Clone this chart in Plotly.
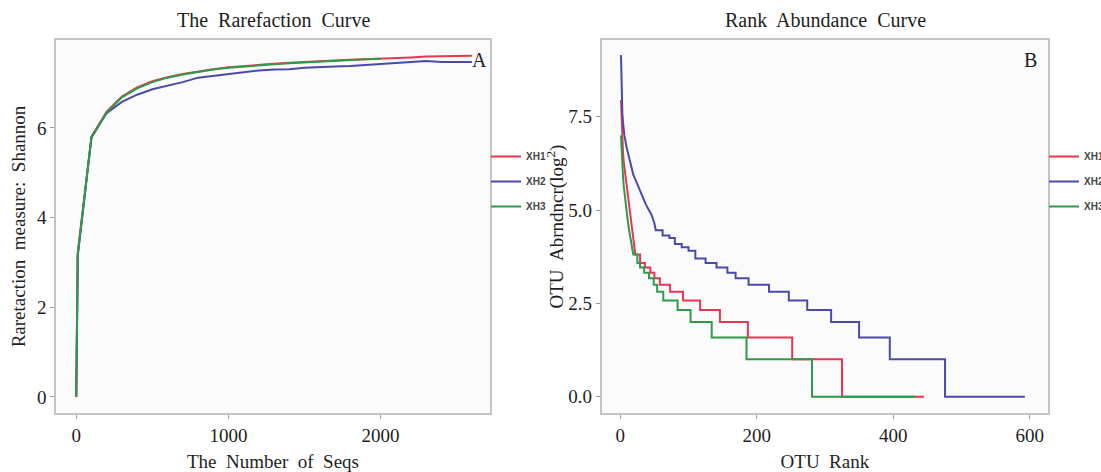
import plotly.graph_objects as go

W, H = 1101, 472

# ---------------- data: rarefaction (Shannon vs number of seqs) ----------------
seqs_a = [0, 10, 100, 200, 300, 400, 500, 600, 700, 800, 900, 1000, 1100, 1200,
          1300, 1400, 1500, 1600, 1700, 1800, 1900, 2000, 2100, 2200, 2300, 2400, 2500, 2600]
shannon_xh1 = [0, 3.2, 5.8, 6.36, 6.7, 6.9, 7.04, 7.13, 7.2, 7.26, 7.31, 7.35, 7.38, 7.41,
               7.43, 7.45, 7.47, 7.49, 7.5, 7.52, 7.53, 7.54, 7.56, 7.57, 7.59, 7.6, 7.61, 7.61]
shannon_xh2 = [0, 3.15, 5.8, 6.33, 6.58, 6.74, 6.86, 6.94, 7.02, 7.12, 7.16, 7.19, 7.24, 7.28,
               7.3, 7.31, 7.34, 7.36, 7.37, 7.38, 7.4, 7.43, 7.45, 7.46, 7.49, 7.47, 7.47, 7.47]
seqs_c = [0, 10, 100, 200, 300, 400, 500, 600, 700, 800, 900, 1000, 1100, 1200,
          1300, 1400, 1500, 1600, 1700, 1800, 1900, 2000]
shannon_xh3 = [0, 3.2, 5.78, 6.34, 6.68, 6.88, 7.02, 7.12, 7.19, 7.25, 7.3, 7.34, 7.37, 7.4,
               7.42, 7.44, 7.46, 7.48, 7.5, 7.51, 7.53, 7.54]

# ---------------- data: rank abundance (log2 abundance vs OTU rank) ----------------
# steep head of each curve (rank, log2 abundance)
head_rank_xh1 = [1, 2, 3, 4, 5, 7, 9, 11, 13, 15, 17, 19]
head_abund_xh1 = [7.95, 7.3, 6.9, 6.55, 6.3, 6.0, 5.75, 5.45, 5.12, 4.78, 4.48, 4.2]
# stepped tail: each level starts at a rank and holds until the next start
step_start_xh1 = [22, 29, 36, 44, 50, 58, 73, 92, 117, 146, 187, 252, 325]
step_level_xh1 = [3.81, 3.58, 3.46, 3.32, 3.17, 3.0, 2.81, 2.58, 2.32, 2.0, 1.585, 1.0, 0.0]
last_rank_xh1 = 445

head_rank_xh2 = [1, 2, 3, 4, 6, 9, 12, 15, 19, 23, 28, 31, 34, 38, 42, 46, 50]
head_abund_xh2 = [9.15, 8.2, 7.6, 7.35, 7.0, 6.7, 6.45, 6.25, 5.95, 5.78, 5.58, 5.45, 5.3,
                  5.13, 4.98, 4.86, 4.64]
step_start_xh2 = [52, 62, 72, 80, 90, 100, 110, 125, 141, 157, 169, 188, 218, 247, 274,
                  309, 350, 395, 476]
step_level_xh2 = [4.46, 4.32, 4.25, 4.09, 4.0, 3.91, 3.7, 3.58, 3.46, 3.32, 3.17, 3.0, 2.81,
                  2.58, 2.32, 2.0, 1.585, 1.0, 0.0]
last_rank_xh2 = 593

head_rank_xh3 = [1, 2, 3, 4, 5, 7, 9, 11, 13, 15, 17]
head_abund_xh3 = [7.0, 6.5, 6.2, 5.9, 5.65, 5.3, 5.0, 4.7, 4.45, 4.2, 4.0]
step_start_xh3 = [19, 25, 29, 35, 42, 49, 54, 63, 84, 103, 134, 185, 281]
step_level_xh3 = [3.81, 3.58, 3.46, 3.32, 3.17, 3.0, 2.81, 2.58, 2.32, 2.0, 1.585, 1.0, 0.0]
last_rank_xh3 = 433

series_names = ["XH1", "XH2", "XH3"]
colors = ["#EA3550", "#4A4AAA", "#2E9A4A"]

x_ticks_a = [0, 1000, 2000]
y_ticks_a = [0, 2, 4, 6]
x_ticks_b = [0, 200, 400, 600]
y_ticks_b = [0.0, 2.5, 5.0, 7.5]
y_ticktext_b = ["0.0", "2.5", "5.0", "7.5"]

FONT = "Liberation Serif"
TXT = "#1e1e1e"


def rank_curve(head_r, head_a, starts, levels, last):
    xs, ys = list(head_r), list(head_a)
    ends = starts[1:] + [last]
    for s, e, lv in zip(starts, ends, levels):
        xs += [s, e]
        ys += [lv, lv]
    return xs, ys


fig = go.Figure()

rare = [(seqs_a, shannon_xh1), (seqs_a, shannon_xh2), (seqs_c, shannon_xh3)]
for i, (xs, ys) in enumerate(rare):
    fig.add_trace(go.Scatter(x=xs, y=ys, mode="lines", name=series_names[i],
                             line=dict(color=colors[i], width=2),
                             xaxis="x", yaxis="y", legend="legend",
                             legendgroup="a%d" % i))

rankab = [
    rank_curve(head_rank_xh1, head_abund_xh1, step_start_xh1, step_level_xh1, last_rank_xh1),
    rank_curve(head_rank_xh2, head_abund_xh2, step_start_xh2, step_level_xh2, last_rank_xh2),
    rank_curve(head_rank_xh3, head_abund_xh3, step_start_xh3, step_level_xh3, last_rank_xh3),
]
for i, (xs, ys) in enumerate(rankab):
    fig.add_trace(go.Scatter(x=xs, y=ys, mode="lines", name=series_names[i],
                             line=dict(color=colors[i], width=2),
                             xaxis="x2", yaxis="y2", legend="legend2",
                             legendgroup="b%d" % i))


def px(v):
    return v / W


def py(v):
    return 1 - v / H


axis_common = dict(showgrid=False, zeroline=False, showline=True, mirror=True,
                   linecolor="#c4c4c4", linewidth=1.5, ticks="outside", ticklen=4,
                   tickcolor="#9a9a9a", tickwidth=1,
                   tickfont=dict(family=FONT, size=19, color=TXT))

ydom = [py(413), py(40)]
legend_font = dict(family="Liberation Sans Narrow, Liberation Sans", size=10,
                   color="#444444", weight="bold")

fig.update_layout(
    width=W, height=H,
    margin=dict(l=0, r=0, t=0, b=0, autoexpand=False),
    paper_bgcolor="white",
    plot_bgcolor="#fbfbfb",
    xaxis=dict(domain=[px(56), px(490)], range=[-133, 2719], tickvals=x_ticks_a,
               title=dict(text="The\u00a0 Number\u00a0 of\u00a0 Seqs",
                          font=dict(family=FONT, size=19, color=TXT), standoff=10),
               anchor="y", **axis_common),
    yaxis=dict(domain=ydom, range=[-0.36, 7.96], tickvals=y_ticks_a,
               title=dict(text="Raretaction\u00a0 measure:\u00a0 Shannon",
                          font=dict(family=FONT, size=19, color=TXT), standoff=6),
               anchor="x", **axis_common),
    xaxis2=dict(domain=[px(601.6), px(1048.2)], range=[-27.4, 627.2], tickvals=x_ticks_b,
                title=dict(text="OTU\u00a0 Rank",
                           font=dict(family=FONT, size=19, color=TXT), standoff=10),
                anchor="y2", **axis_common),
    yaxis2=dict(domain=ydom, range=[-0.437, 9.555], tickvals=y_ticks_b, ticktext=y_ticktext_b,
                title=dict(text="OTU\u00a0 Abrndncr(log<sup>2</sup>)",
                           font=dict(family=FONT, size=19, color=TXT), standoff=0),
                anchor="x2", **axis_common),
    legend=dict(x=px(486), y=py(142), xanchor="left", yanchor="top",
                bgcolor="rgba(0,0,0,0)", tracegroupgap=6, font=legend_font),
    legend2=dict(x=px(1044), y=py(142), xanchor="left", yanchor="top",
                 bgcolor="rgba(0,0,0,0)", tracegroupgap=6, font=legend_font),
    showlegend=True,
)

annotations = [
    dict(text="The\u00a0 Rarefaction\u00a0 Curve", x=px(273), y=py(20), xref="paper", yref="paper",
         showarrow=False, font=dict(family=FONT, size=20, color=TXT), xanchor="center", yanchor="middle"),
    dict(text="Rank\u00a0 Abundance\u00a0 Curve", x=px(825), y=py(20), xref="paper", yref="paper",
         showarrow=False, font=dict(family=FONT, size=20, color=TXT), xanchor="center", yanchor="middle"),
    dict(text="A", x=px(479), y=py(60), xref="paper", yref="paper", showarrow=False,
         font=dict(family=FONT, size=20, color=TXT), xanchor="center", yanchor="middle"),
    dict(text="B", x=px(1030), y=py(60), xref="paper", yref="paper", showarrow=False,
         font=dict(family=FONT, size=20, color=TXT), xanchor="center", yanchor="middle"),
]
fig.update_layout(annotations=annotations)

fig.write_html("out.html", config={"displayModeBar": False},
               post_script="document.body.style.margin='0';")
